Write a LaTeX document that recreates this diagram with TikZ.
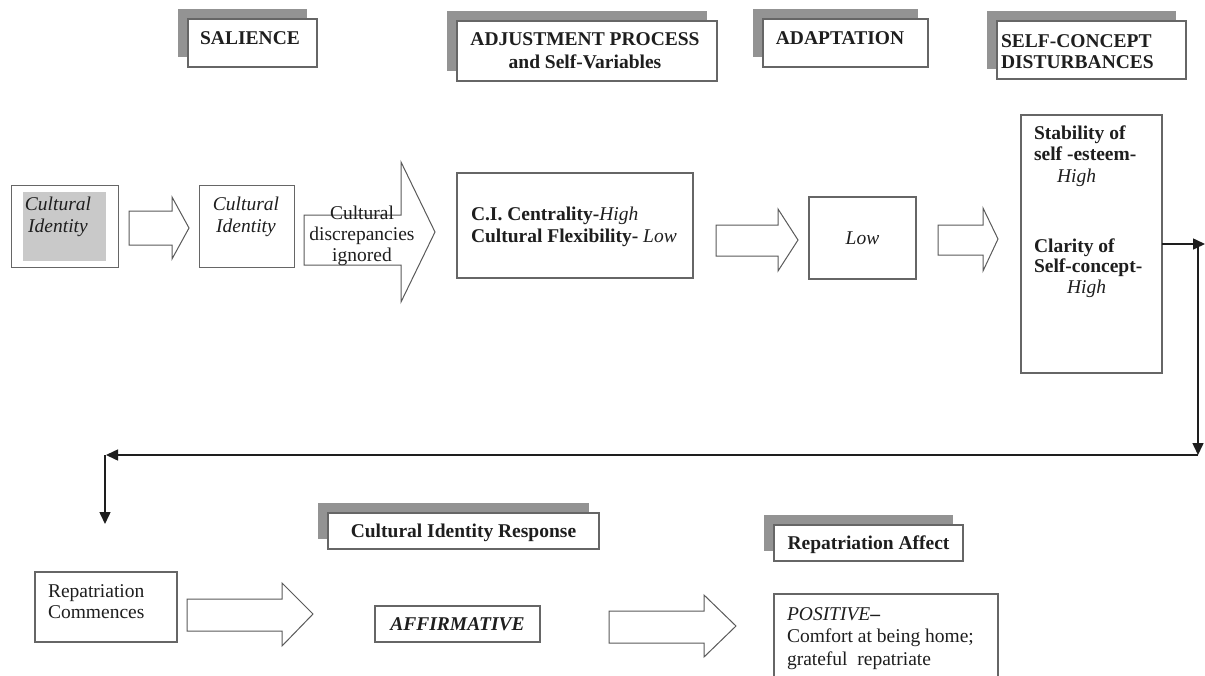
\documentclass[tikz,border=0pt]{standalone}
\usepackage{fontspec}
\setmainfont{Liberation Serif}
\usetikzlibrary{arrows.meta,shadows}
\definecolor{bordergray}{HTML}{666666}
\definecolor{shadowgray}{HTML}{939393}
\definecolor{arrowgray}{HTML}{5A5A5A}
\definecolor{inkcol}{HTML}{1E1E1E}
\definecolor{fillgray}{HTML}{C9C9C9}
\newcommand\tp{\rule{0pt}{14pt}}
\newcommand\fsz[1]{\fontsize{19.5}{#1}\selectfont}
\newcommand\blockarrow[8]{\draw[blk] (#1,#2) -- (#4,#2) -- (#4,#5) -- (#7,#8) -- (#4,#6) -- (#4,#3) -- (#1,#3) -- cycle;}
\begin{document}
\begin{tikzpicture}[x=1pt,y=-1pt,
  every node/.style={text=inkcol, inner sep=0pt, outer sep=0pt, font=\fsz{22}},
  box/.style={draw=bordergray, line width=1.2pt, fill=white},
  hdr/.style={box, font=\fsz{22}\bfseries, text depth=0pt,
    drop shadow={shadow xshift=-10pt, shadow yshift=10pt, fill=shadowgray, opacity=1}},
  hdrtext/.style={font=\fsz{22}\bfseries},
  blk/.style={draw=arrowgray, line width=1pt, fill=white, line join=miter},
  conn/.style={draw=inkcol, line width=1.5pt, -{Triangle[length=12pt,width=11pt]}},
  txt/.style={align=left, anchor=north west},
  ctxt/.style={align=center, anchor=north}]
\useasboundingbox (0,0) rectangle (1205,675);
\fill[white] (0,0) rectangle (1205,675);

% ---- header boxes ----
\node[hdr, minimum width=129pt, minimum height=48pt] (salW) at (252.5,43) {};
\node[hdrtext, anchor=base] (salT) at (250,44) {SALIENCE};
\node[hdr, minimum width=260pt, minimum height=60pt] (adjW) at (587,51) {};
\node[hdrtext, ctxt, font=\fsz{23}\bfseries] (adjT) at (585,31) {\tp ADJUSTMENT PROCESS\\and Self-Variables};
\node[hdr, minimum width=165pt, minimum height=48pt] (adaW) at (845.5,43) {};
\node[hdrtext, anchor=base] (adaT) at (840,44) {ADAPTATION};
\node[hdr, minimum width=189pt, minimum height=58pt] (selW) at (1091.5,50) {};
\node[hdrtext, txt, font=\fsz{21}\bfseries] (selT) at (1001,33) {\tp SELF-CONCEPT\\DISTURBANCES};
\node[hdr, minimum width=271pt, minimum height=36pt] (cirW) at (463.5,531) {Cultural Identity Response};
\node[hdr, minimum width=189pt, minimum height=36pt] (raW) at (868.5,543) {Repatriation Affect};

% ---- row 1 ----
\node[box, line width=1pt, minimum width=107pt, minimum height=82pt] (ci1) at (64.5,226) {};
\fill[fillgray] (23,192) rectangle (106,261);
\node[ctxt, font=\fsz{22}\itshape] (ci1T) at (58,196) {\tp Cultural\\Identity};
\blockarrow{129}{211}{245}{172}{197}{259}{189}{228}
\node[box, line width=1pt, minimum width=95pt, minimum height=82pt] (ci2) at (246.5,226) {};
\node[ctxt, font=\fsz{22}\itshape] (ci2T) at (246,196) {\tp Cultural\\Identity};
\blockarrow{304}{215}{265}{401}{162}{302}{435}{232}
\node[ctxt, font=\fsz{21}] (discT) at (362,205) {\tp Cultural\\discrepancies\\ignored};
\node[box, minimum width=236pt, minimum height=105pt] (cib) at (575,225.5) {};
\node[txt] (cibT) at (471,206) {\tp\textbf{C.I. Centrality-}\textit{High}\\\textbf{Cultural Flexibility-} \textit{Low}};
\blockarrow{716}{225}{256}{778}{209}{271}{798}{240}
\node[box, minimum width=107pt, minimum height=82pt, font=\fsz{22}\itshape] (low) at (862.5,238) {Low};
\blockarrow{938}{225}{255}{983}{208}{271}{998}{239}
\node[box, minimum width=141pt, minimum height=258pt] (big) at (1091.5,244) {};
\node[txt, font=\fsz{21.5}\bfseries] (bigT1) at (1034,125) {\tp Stability of\\self -esteem-\\\hspace*{23pt}\textit{\mdseries High}};
\node[txt, font=\fsz{20.5}\bfseries] (bigT2) at (1034,238) {\tp Clarity of\\Self-concept-\\\hspace*{33pt}\textit{\mdseries High}};

% ---- connectors ----
\coordinate (r1) at (1205,244);
\coordinate (r2) at (1198,244);
\coordinate (r3) at (1198,455);
\coordinate (l1) at (106,455);
\coordinate (l2) at (105,455);
\coordinate (l3) at (105,524);
\draw[conn] (big.east) -- (r1);
\draw[conn] (r2) -- (r3);
\draw[conn] (r3) -- (l1);
\draw[conn] (l2) -- (l3);

% ---- row 2 ----
\node[box, minimum width=142pt, minimum height=70pt] (rep) at (106,607) {};
\node[txt, font=\fsz{21}] (repT) at (48,583) {\tp Repatriation\\Commences};
\blockarrow{187}{599}{631}{282}{583}{646}{313}{614}
\node[box, minimum width=165pt, minimum height=36pt, font=\fsz{22}\bfseries\itshape] (aff) at (457.5,624) {AFFIRMATIVE};
\blockarrow{609}{611}{643}{704}{595}{657}{736}{626}
\node[box, minimum width=224pt, minimum height=106pt] (pos) at (886,647) {};
\node[txt, font=\fsz{22.5}] (posT) at (787,606) {\tp\textit{POSITIVE}\textbf{--}\\Comfort at being home;\\grateful\ \ repatriate};
\end{tikzpicture}
\end{document}
